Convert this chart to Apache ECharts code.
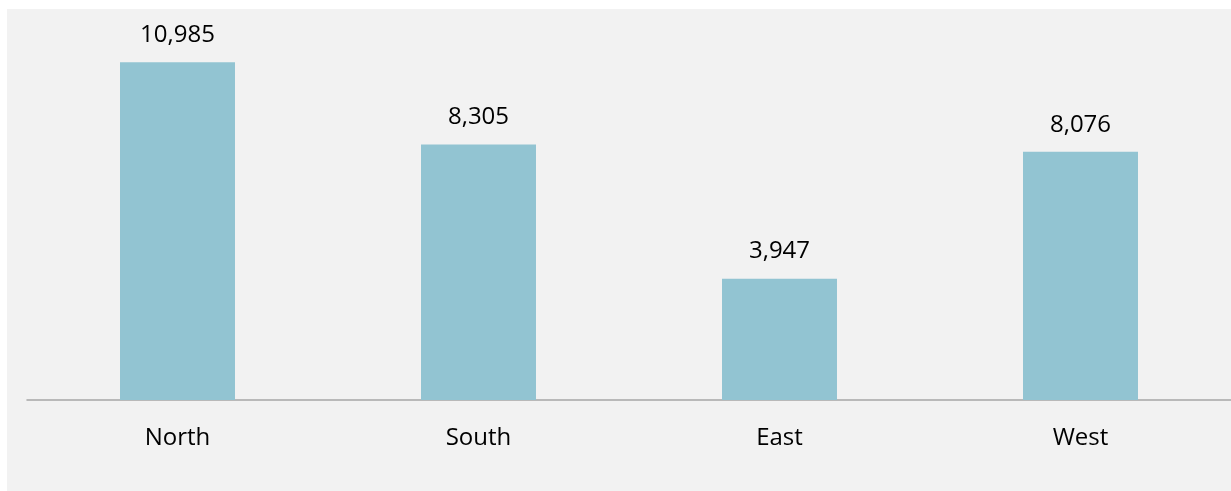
<!DOCTYPE html>
<html>
<head>
<meta charset="utf-8">
<script src="https://cdn.jsdelivr.net/npm/echarts@6/dist/echarts.min.js"></script>
<style>
  html, body { margin: 0; padding: 0; background: #ffffff; overflow: hidden; }
  #chart { width: 1231px; height: 491px; }
</style>
</head>
<body>
<div id="chart"></div>
<script>
// 数据
var regions = ['North', 'South', 'East', 'West'];
var sales = [10985, 8305, 3947, 8076];

var chart = echarts.init(document.getElementById('chart'));

var option = {
  backgroundColor: '#ffffff',
  animation: false,
  textStyle: { fontFamily: 'Open Sans' },
  // 灰色底板
  graphic: [{
    type: 'rect',
    z: -10,
    silent: true,
    shape: { x: 7, y: 9, width: 1224, height: 482 },
    style: { fill: '#f2f2f2' }
  }],
  grid: { left: 27, right: 0, top: 31, bottom: 91, outerBoundsMode: 'none' },
  xAxis: {
    type: 'category',
    data: regions,
    axisLine: { lineStyle: { color: '#a6a6a6', width: 1.5 } },
    axisTick: { show: false },
    axisLabel: { color: '#000000', fontSize: 24, margin: 26 }
  },
  yAxis: {
    type: 'value',
    min: 0,
    max: 12000,
    show: false,
    splitLine: { show: false }
  },
  series: [{
    type: 'bar',
    data: sales,
    barWidth: '38.2%',
    itemStyle: { color: '#92c4d2' },
    label: {
      show: true,
      position: 'top',
      distance: 15,
      color: '#000000',
      fontSize: 24,
      formatter: function (p) {
        return p.value.toLocaleString('en-US');
      }
    }
  }]
};

chart.setOption(option);
</script>
</body>
</html>
